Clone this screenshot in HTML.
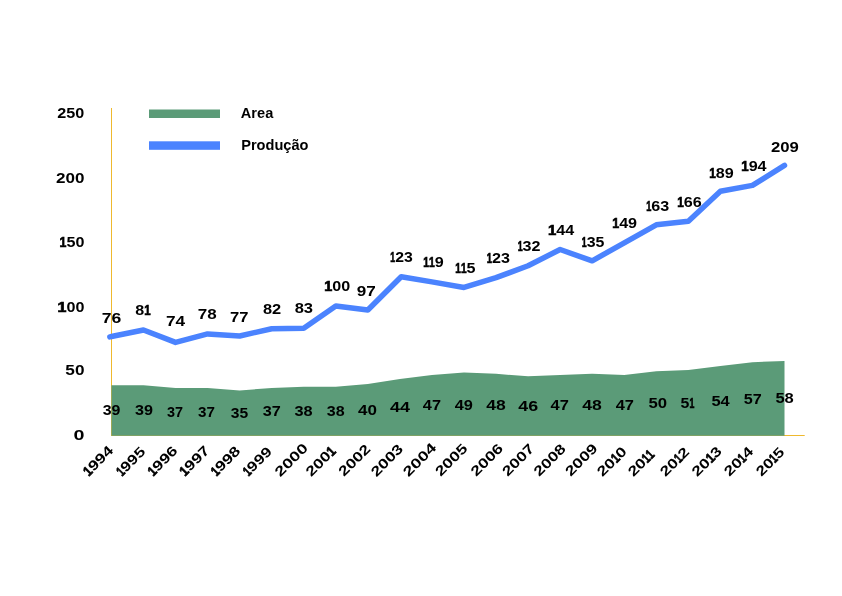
<!DOCTYPE html>
<html><head><meta charset="utf-8"><title>Chart</title>
<style>
html,body{margin:0;padding:0;background:#fff;}
svg{display:block;will-change:transform;}
text{font-family:"Liberation Sans",sans-serif;font-weight:bold;font-size:13.8px;fill:#000;}
</style></head>
<body>
<svg width="842" height="596" viewBox="0 0 842 596">
<rect width="842" height="596" fill="#fff"/>
<rect x="111" y="108" width="1" height="328" fill="#efb92e"/>
<rect x="111" y="435" width="693.7" height="1" fill="#efb92e"/>
<path d="M111.45,435.75 L111.45,385.35 L143.50,385.35 L175.55,387.92 L207.60,387.92 L239.65,390.49 L271.70,387.92 L303.75,386.63 L335.80,386.63 L367.85,384.06 L399.90,378.92 L431.95,375.06 L464.00,372.49 L496.05,373.77 L528.10,376.34 L560.15,375.06 L592.20,373.77 L624.25,375.06 L656.30,371.20 L688.35,369.91 L720.40,366.06 L752.45,362.20 L784.50,360.91 L784.50,435.75 Z" fill="#5b9b78"/>
<polyline points="109.85,336.84 111.45,336.52 143.50,329.95 175.55,342.40 207.60,333.95 239.65,336.03 271.70,328.71 303.75,328.23 335.80,306.00 367.85,310.00 401.20,276.77 431.95,281.90 464.00,287.44 496.05,277.67 528.10,265.71 560.15,249.50 592.20,260.86 624.25,242.78 656.30,224.81 688.35,221.26 720.40,191.22 752.45,185.35 784.50,165.34" fill="none" stroke="#4b83fe" stroke-width="5.5" stroke-linejoin="round" stroke-linecap="round"/>
<text transform="translate(57.24,118.10) scale(1.174,1)">250</text>
<text transform="translate(56.01,183.00) scale(1.237,1)">200</text>
<text transform="translate(59.62,246.90) scale(1.170,1)"><tspan textLength="5.88" lengthAdjust="spacingAndGlyphs" style="stroke:#000;stroke-width:0.7px">1</tspan>50</text>
<text transform="translate(57.59,311.90) scale(1.170,1)"><tspan textLength="7.62" lengthAdjust="spacingAndGlyphs" style="stroke:#000;stroke-width:0.7px">1</tspan>00</text>
<text transform="translate(65.37,374.90) scale(1.247,1)">50</text>
<text transform="translate(73.62,439.70) scale(1.432,1)">0</text>
<text transform="translate(101.74,322.80) scale(1.276,1)">76</text>
<text transform="translate(135.19,315.40) scale(1.170,1)">8<tspan textLength="5.43" lengthAdjust="spacingAndGlyphs" style="stroke:#000;stroke-width:0.7px">1</tspan></text>
<text transform="translate(165.96,326.00) scale(1.253,1)">74</text>
<text transform="translate(197.77,318.50) scale(1.235,1)">78</text>
<text transform="translate(230.09,321.60) scale(1.201,1)">77</text>
<text transform="translate(262.88,313.50) scale(1.191,1)">82</text>
<text transform="translate(294.67,312.50) scale(1.200,1)">83</text>
<text transform="translate(324.19,290.90) scale(1.170,1)"><tspan textLength="6.85" lengthAdjust="spacingAndGlyphs" style="stroke:#000;stroke-width:0.7px">1</tspan>00</text>
<text transform="translate(356.81,295.60) scale(1.241,1)">97</text>
<text transform="translate(390.35,261.80) scale(1.146,1)"><tspan textLength="4.22" lengthAdjust="spacingAndGlyphs" style="stroke:#000;stroke-width:0.7px">1</tspan>23</text>
<text transform="translate(423.25,266.60) scale(1.170,1)"><tspan textLength="4.90" lengthAdjust="spacingAndGlyphs" style="stroke:#000;stroke-width:0.7px">1</tspan><tspan textLength="4.90" lengthAdjust="spacingAndGlyphs" style="stroke:#000;stroke-width:0.7px">1</tspan>9</text>
<text transform="translate(455.37,272.50) scale(1.170,1)"><tspan textLength="4.79" lengthAdjust="spacingAndGlyphs" style="stroke:#000;stroke-width:0.7px">1</tspan><tspan textLength="4.79" lengthAdjust="spacingAndGlyphs" style="stroke:#000;stroke-width:0.7px">1</tspan>5</text>
<text transform="translate(486.71,262.80) scale(1.170,1)"><tspan textLength="4.46" lengthAdjust="spacingAndGlyphs" style="stroke:#000;stroke-width:0.7px">1</tspan>23</text>
<text transform="translate(517.64,250.60) scale(1.170,1)"><tspan textLength="4.23" lengthAdjust="spacingAndGlyphs" style="stroke:#000;stroke-width:0.7px">1</tspan>32</text>
<text transform="translate(547.96,234.60) scale(1.170,1)"><tspan textLength="7.06" lengthAdjust="spacingAndGlyphs" style="stroke:#000;stroke-width:0.7px">1</tspan>44</text>
<text transform="translate(581.85,246.60) scale(1.155,1)"><tspan textLength="4.22" lengthAdjust="spacingAndGlyphs" style="stroke:#000;stroke-width:0.7px">1</tspan>35</text>
<text transform="translate(612.22,227.50) scale(1.170,1)"><tspan textLength="5.92" lengthAdjust="spacingAndGlyphs" style="stroke:#000;stroke-width:0.7px">1</tspan>49</text>
<text transform="translate(646.22,210.60) scale(1.170,1)"><tspan textLength="4.36" lengthAdjust="spacingAndGlyphs" style="stroke:#000;stroke-width:0.7px">1</tspan>63</text>
<text transform="translate(677.16,206.50) scale(1.170,1)"><tspan textLength="5.61" lengthAdjust="spacingAndGlyphs" style="stroke:#000;stroke-width:0.7px">1</tspan>66</text>
<text transform="translate(709.15,177.50) scale(1.170,1)"><tspan textLength="5.63" lengthAdjust="spacingAndGlyphs" style="stroke:#000;stroke-width:0.7px">1</tspan>89</text>
<text transform="translate(741.27,170.60) scale(1.170,1)"><tspan textLength="6.29" lengthAdjust="spacingAndGlyphs" style="stroke:#000;stroke-width:0.7px">1</tspan>94</text>
<text transform="translate(771.02,151.70) scale(1.212,1)">209</text>
<text transform="translate(102.63,415.10) scale(1.157,1)">39</text>
<text transform="translate(134.93,415.10) scale(1.171,1)">39</text>
<text transform="translate(167.07,417.00) scale(1.047,1)">37</text>
<text transform="translate(198.05,417.00) scale(1.102,1)">37</text>
<text transform="translate(230.74,418.00) scale(1.133,1)">35</text>
<text transform="translate(262.83,416.00) scale(1.178,1)">37</text>
<text transform="translate(294.52,416.00) scale(1.184,1)">38</text>
<text transform="translate(326.83,416.00) scale(1.164,1)">38</text>
<text transform="translate(357.94,415.00) scale(1.235,1)">40</text>
<text transform="translate(389.93,411.60) scale(1.301,1)">44</text>
<text transform="translate(422.85,409.80) scale(1.183,1)">47</text>
<text transform="translate(454.75,409.90) scale(1.183,1)">49</text>
<text transform="translate(486.13,409.90) scale(1.271,1)">48</text>
<text transform="translate(518.23,411.00) scale(1.291,1)">46</text>
<text transform="translate(550.55,409.60) scale(1.190,1)">47</text>
<text transform="translate(582.23,409.60) scale(1.277,1)">48</text>
<text transform="translate(615.65,409.60) scale(1.190,1)">47</text>
<text transform="translate(648.39,407.60) scale(1.212,1)">50</text>
<text transform="translate(680.61,408.00) scale(1.154,1)">5<tspan textLength="4.22" lengthAdjust="spacingAndGlyphs" style="stroke:#000;stroke-width:0.7px">1</tspan></text>
<text transform="translate(711.39,405.70) scale(1.192,1)">54</text>
<text transform="translate(743.70,403.60) scale(1.173,1)">57</text>
<text transform="translate(775.39,402.80) scale(1.200,1)">58</text>
<text transform="translate(88.80,476.67) rotate(-45) scale(1.270,1)"><tspan textLength="5.17" lengthAdjust="spacingAndGlyphs" style="stroke:#000;stroke-width:0.7px">1</tspan>994</text>
<text transform="translate(122.12,476.65) rotate(-45) scale(1.251,1)"><tspan textLength="4.22" lengthAdjust="spacingAndGlyphs" style="stroke:#000;stroke-width:0.7px">1</tspan>995</text>
<text transform="translate(153.35,476.67) rotate(-45) scale(1.270,1)"><tspan textLength="4.96" lengthAdjust="spacingAndGlyphs" style="stroke:#000;stroke-width:0.7px">1</tspan>996</text>
<text transform="translate(185.03,476.66) rotate(-45) scale(1.270,1)"><tspan textLength="5.25" lengthAdjust="spacingAndGlyphs" style="stroke:#000;stroke-width:0.7px">1</tspan>997</text>
<text transform="translate(216.50,476.66) rotate(-45) scale(1.270,1)"><tspan textLength="4.56" lengthAdjust="spacingAndGlyphs" style="stroke:#000;stroke-width:0.7px">1</tspan>998</text>
<text transform="translate(248.59,476.64) rotate(-45) scale(1.264,1)"><tspan textLength="4.22" lengthAdjust="spacingAndGlyphs" style="stroke:#000;stroke-width:0.7px">1</tspan>999</text>
<text transform="translate(280.37,477.40) rotate(-45) scale(1.313,1)">2000</text>
<text transform="translate(311.33,477.37) rotate(-45) scale(1.270,1)">200<tspan textLength="5.17" lengthAdjust="spacingAndGlyphs" style="stroke:#000;stroke-width:0.7px">1</tspan></text>
<text transform="translate(344.11,477.00) rotate(-45) scale(1.251,1)">2002</text>
<text transform="translate(376.38,477.40) rotate(-45) scale(1.275,1)">2003</text>
<text transform="translate(408.53,477.40) rotate(-45) scale(1.324,1)">2004</text>
<text transform="translate(440.65,477.00) rotate(-45) scale(1.274,1)">2005</text>
<text transform="translate(476.25,477.00) rotate(-45) scale(1.280,1)">2006</text>
<text transform="translate(507.67,476.99) rotate(-45) scale(1.268,1)">2007</text>
<text transform="translate(539.34,476.99) rotate(-45) scale(1.260,1)">2008</text>
<text transform="translate(570.66,476.99) rotate(-45) scale(1.278,1)">2009</text>
<text transform="translate(602.62,477.35) rotate(-45) scale(1.270,1)">20<tspan textLength="4.74" lengthAdjust="spacingAndGlyphs" style="stroke:#000;stroke-width:0.7px">1</tspan>0</text>
<text transform="translate(633.38,477.31) rotate(-45) scale(1.270,1)">20<tspan textLength="4.46" lengthAdjust="spacingAndGlyphs" style="stroke:#000;stroke-width:0.7px">1</tspan><tspan textLength="4.46" lengthAdjust="spacingAndGlyphs" style="stroke:#000;stroke-width:0.7px">1</tspan></text>
<text transform="translate(665.62,477.35) rotate(-45) scale(1.270,1)">20<tspan textLength="4.38" lengthAdjust="spacingAndGlyphs" style="stroke:#000;stroke-width:0.7px">1</tspan>2</text>
<text transform="translate(697.34,477.35) rotate(-45) scale(1.270,1)">20<tspan textLength="5.19" lengthAdjust="spacingAndGlyphs" style="stroke:#000;stroke-width:0.7px">1</tspan>3</text>
<text transform="translate(729.56,476.95) rotate(-45) scale(1.270,1)">20<tspan textLength="4.28" lengthAdjust="spacingAndGlyphs" style="stroke:#000;stroke-width:0.7px">1</tspan>4</text>
<text transform="translate(761.38,476.95) rotate(-45) scale(1.244,1)">20<tspan textLength="4.22" lengthAdjust="spacingAndGlyphs" style="stroke:#000;stroke-width:0.7px">1</tspan>5</text>
<rect x="149" y="109.5" width="71" height="8.5" fill="#5b9b78"/>
<rect x="149" y="141.3" width="71" height="8.5" fill="#4b83fe"/>
<text transform="translate(240.84,118.10) scale(1.058,1)">Area</text>
<text transform="translate(241.22,149.70) scale(1.058,1)">Produção</text>
</svg>
</body></html>
